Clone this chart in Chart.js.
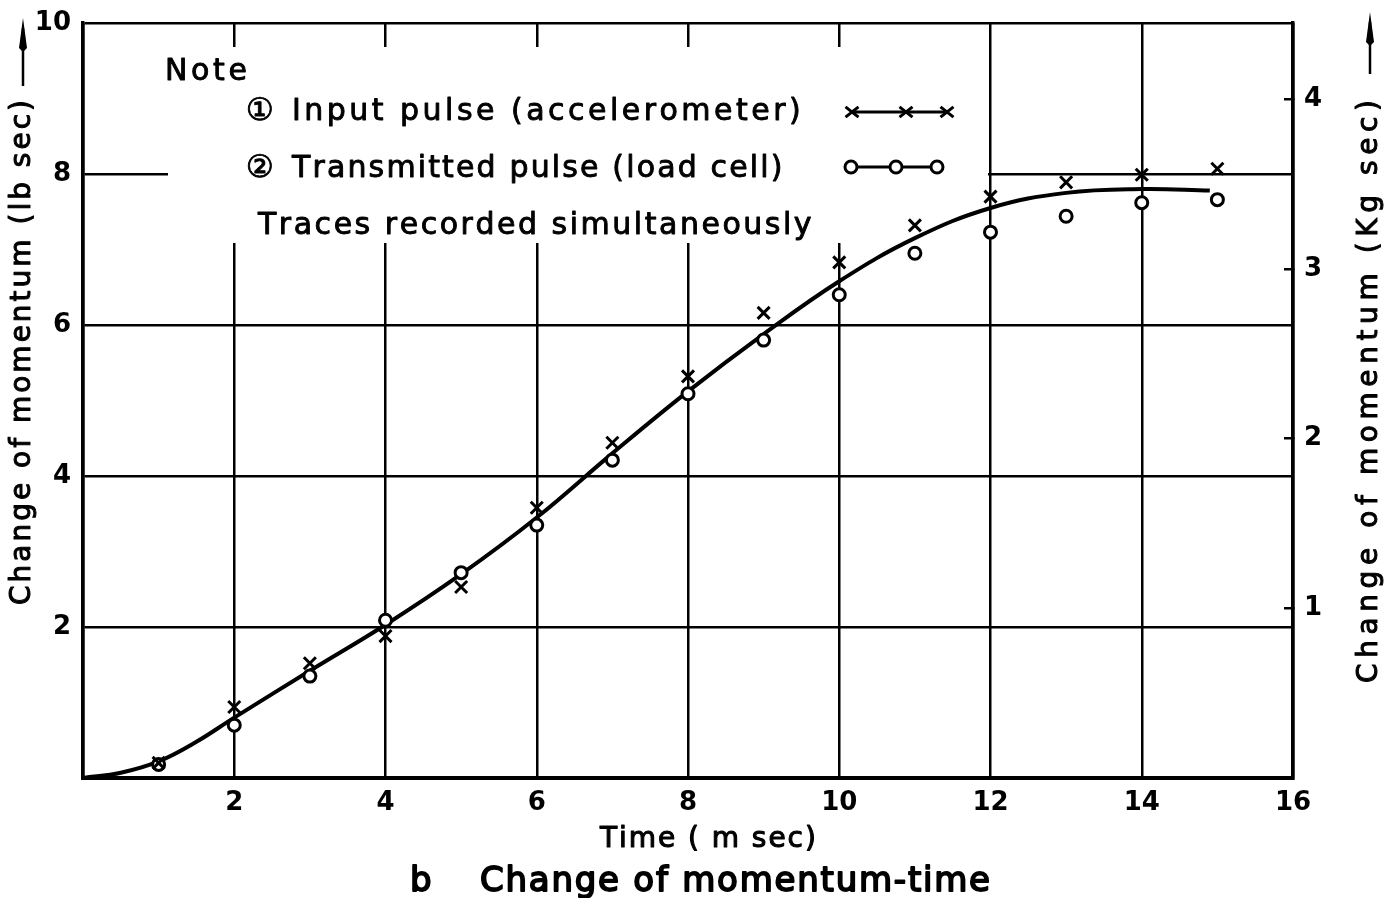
<!DOCTYPE html>
<html>
<head>
<meta charset="utf-8">
<script src="https://cdn.jsdelivr.net/npm/chart.js@4.4.1/dist/chart.umd.min.js"></script>
<style>
  html, body { margin: 0; padding: 0; background: #fff; }
  #wrap { width: 1400px; height: 898px; position: relative; }
</style>
</head>
<body>
<div id="wrap"><canvas id="c"></canvas></div>
<script>
// Measured points: time (ms) against change of momentum (lb sec)
const timeMs = [1, 2, 3, 4, 5, 6, 7, 8, 9, 10, 11, 12, 13, 14, 15];
const inputPulse = [0.20, 0.94, 1.52, 1.88, 2.53, 3.58, 4.44, 5.32, 6.16, 6.83, 7.32, 7.70, 7.89, 7.99, 8.07];
const transmittedPulse = [0.18, 0.70, 1.35, 2.09, 2.72, 3.35, 4.21, 5.09, 5.80, 6.40, 6.95, 7.23, 7.44, 7.62, 7.66];

// Smooth mean curve drawn through the measurements
const curveTime = [0, 0.5, 1, 1.5, 2, 3, 4, 5, 6, 7, 8, 9, 10, 11, 12, 13, 14, 14.9];
const curveMomentum = [0, 0.07, 0.22, 0.48, 0.80, 1.42, 2.03, 2.70, 3.45, 4.30, 5.12, 5.88, 6.58, 7.15, 7.55, 7.75, 7.80, 7.78];

// Tick labels
const timeTicks = [2, 4, 6, 8, 10, 12, 14, 16];
const lbTicks = [2, 4, 6, 8, 10];
const kgTicks = [1, 2, 3, 4];

const FONT = '"DejaVu Sans", "Noto Sans", sans-serif';

function pts(xs, ys) { return xs.map((x, i) => ({ x: x, y: ys[i] })); }

// Draw a string spread out to a given width, slightly thickened (lettering-stencil look)
function spread(ctx, str, x, y, width, font, weight) {
  ctx.font = font;
  ctx.lineWidth = weight || 0.9;
  ctx.strokeStyle = '#000';
  ctx.lineJoin = 'round';
  const chars = Array.from(str);
  const base = ctx.measureText(str).width;
  const gap = chars.length > 1 ? (width - base) / (chars.length - 1) : 0;
  let pos = x;
  ctx.textAlign = 'left';
  chars.forEach(ch => {
    ctx.fillText(ch, pos, y);
    if (ch !== ' ') ctx.strokeText(ch, pos, y);
    pos += ctx.measureText(ch).width + gap;
  });
}

function upArrow(ctx, x, yTop, yBottom) {
  ctx.save();
  ctx.strokeStyle = '#000';
  ctx.fillStyle = '#000';
  ctx.lineWidth = 2.5;
  ctx.beginPath();
  ctx.moveTo(x, yBottom);
  ctx.lineTo(x, yTop + 10);
  ctx.stroke();
  ctx.beginPath();
  ctx.moveTo(x, yTop);
  ctx.lineTo(x - 4, yTop + 30);
  ctx.lineTo(x, yTop + 34);
  ctx.lineTo(x + 4, yTop + 30);
  ctx.closePath();
  ctx.fill();
  ctx.restore();
}

function crossMark(ctx, x, y, r) {
  ctx.beginPath();
  ctx.moveTo(x - r, y - r * 0.8); ctx.lineTo(x + r, y + r * 0.8);
  ctx.moveTo(x + r, y - r * 0.8); ctx.lineTo(x - r, y + r * 0.8);
  ctx.stroke();
}

function circleMark(ctx, x, y, r) {
  ctx.beginPath();
  ctx.arc(x, y, r, 0, Math.PI * 2);
  ctx.fillStyle = '#fff';
  ctx.fill();
  ctx.stroke();
}

const notePlugin = {
  id: 'noteBox',
  beforeDatasetsDraw(chart) {
    const ctx = chart.ctx;
    ctx.save();
    // blank panel for the note, grid lines stop around it
    ctx.fillStyle = '#fff';
    ctx.fillRect(168, 47, 820, 196);

    ctx.fillStyle = '#000';
    ctx.textBaseline = 'alphabetic';
    const f = '30px ' + FONT;
    spread(ctx, 'Note', 165, 80, 82, f);
    spread(ctx, '\u2460', 246, 120, 26, '31px ' + FONT);
    spread(ctx, 'Input pulse (accelerometer)', 292, 120, 508, f);
    spread(ctx, '\u2461', 246, 177, 26, '31px ' + FONT);
    spread(ctx, 'Transmitted pulse (load cell)', 292, 177, 486, f);
    spread(ctx, 'Traces recorded simultaneously', 258, 234, 548, f);

    // sample symbols
    ctx.strokeStyle = '#000';
    ctx.lineWidth = 3;
    ctx.beginPath(); ctx.moveTo(852, 112); ctx.lineTo(947, 112); ctx.stroke();
    [852, 906, 947].forEach(px => crossMark(ctx, px, 112, 6.5));
    ctx.beginPath(); ctx.moveTo(851, 167); ctx.lineTo(937, 167); ctx.stroke();
    [851, 896, 937].forEach(px => circleMark(ctx, px, 167, 6));
    ctx.restore();
  },
  afterDraw(chart) {
    const ctx = chart.ctx;
    ctx.save();
    ctx.fillStyle = '#000';
    ctx.textBaseline = 'middle';
    // x-axis title and caption
    spread(ctx, 'Time ( m sec)', 600, 840, 215, '28px ' + FONT, 1.1);
    spread(ctx, 'b', 410, 882, 16, '34px ' + FONT, 1.8);
    spread(ctx, 'Change of momentum-time', 480, 882, 510, '34px ' + FONT, 1.8);

    // left axis title, reading upwards
    ctx.save();
    ctx.translate(23, 605);
    ctx.rotate(-Math.PI / 2);
    spread(ctx, 'Change of momentum (lb sec)', 0, 0, 505, '28px ' + FONT, 1);
    ctx.restore();
    upArrow(ctx, 23, 18, 86);

    // right axis title, reading upwards
    ctx.save();
    ctx.translate(1370, 683);
    ctx.rotate(-Math.PI / 2);
    spread(ctx, 'Change of momentum (Kg sec)', 0, 0, 583, '28px ' + FONT, 1);
    ctx.restore();
    upArrow(ctx, 1370, 12, 74);
    ctx.restore();
  }
};

const tickFont = { family: FONT, size: 26, weight: 'bold' };

function fixVertical(width) {
  return s => { s.width = width; s.paddingTop = 0; s.paddingBottom = 0; };
}

const ctx = document.getElementById('c').getContext('2d');
new Chart(ctx, {
  type: 'scatter',
  data: {
    datasets: [
      {
        label: 'Input pulse (accelerometer)',
        data: pts(timeMs, inputPulse),
        pointStyle: 'crossRot',
        pointRadius: 8.5,
        pointBorderWidth: 3,
        borderColor: '#000',
        backgroundColor: '#000',
        showLine: false,
        order: 1
      },
      {
        label: 'Transmitted pulse (load cell)',
        data: pts(timeMs, transmittedPulse),
        pointStyle: 'circle',
        pointRadius: 6,
        pointBorderWidth: 3,
        borderColor: '#000',
        backgroundColor: '#fff',
        showLine: false,
        order: 2
      },
      {
        label: 'Mean curve',
        data: pts(curveTime, curveMomentum),
        showLine: true,
        pointRadius: 0,
        borderColor: '#000',
        borderWidth: 4,
        tension: 0.4,
        fill: false,
        order: 3
      }
    ]
  },
  options: {
    responsive: true,
    maintainAspectRatio: false,
    animation: false,
    layout: { autoPadding: false, padding: { top: 23, left: 0, right: 0, bottom: 0 } },
    plugins: { legend: { display: false }, tooltip: { enabled: false } },
    scales: {
      x: {
        type: 'linear',
        min: 0, max: 16,
        afterBuildTicks: s => { s.ticks = [0].concat(timeTicks).map(v => ({ value: v })); },
        afterFit: s => { s.height = 120; s.paddingLeft = 0; s.paddingRight = 0; },
        grid: { color: '#000', lineWidth: 2.5, drawTicks: false },
        border: { color: '#000', width: 4 },
        ticks: {
          color: '#000', padding: 10,
          font: tickFont,
          callback: v => (v === 0 ? '' : String(v)),
          maxRotation: 0, autoSkip: false
        }
      },
      y: {
        type: 'linear', position: 'left',
        min: 0, max: 10,
        afterBuildTicks: s => { s.ticks = [0].concat(lbTicks).map(v => ({ value: v })); },
        afterFit: fixVertical(83),
        grid: { color: '#000', lineWidth: 2.5, drawTicks: false },
        border: { color: '#000', width: 3.5 },
        ticks: {
          color: '#000', padding: 12,
          font: tickFont,
          callback: v => (v === 0 ? '' : String(v))
        }
      },
      kg: {
        type: 'linear', position: 'right',
        min: 0, max: 4.45,
        afterBuildTicks: s => { s.ticks = kgTicks.map(v => ({ value: v })); },
        afterFit: fixVertical(107),
        grid: { drawOnChartArea: false, drawTicks: true, tickLength: -9, color: '#000', lineWidth: 2.5 },
        border: { color: '#000', width: 3.5 },
        ticks: {
          color: '#000', padding: 20,
          font: tickFont,
          callback: v => String(v)
        }
      }
    }
  },
  plugins: [notePlugin]
});
</script>
</body>
</html>
